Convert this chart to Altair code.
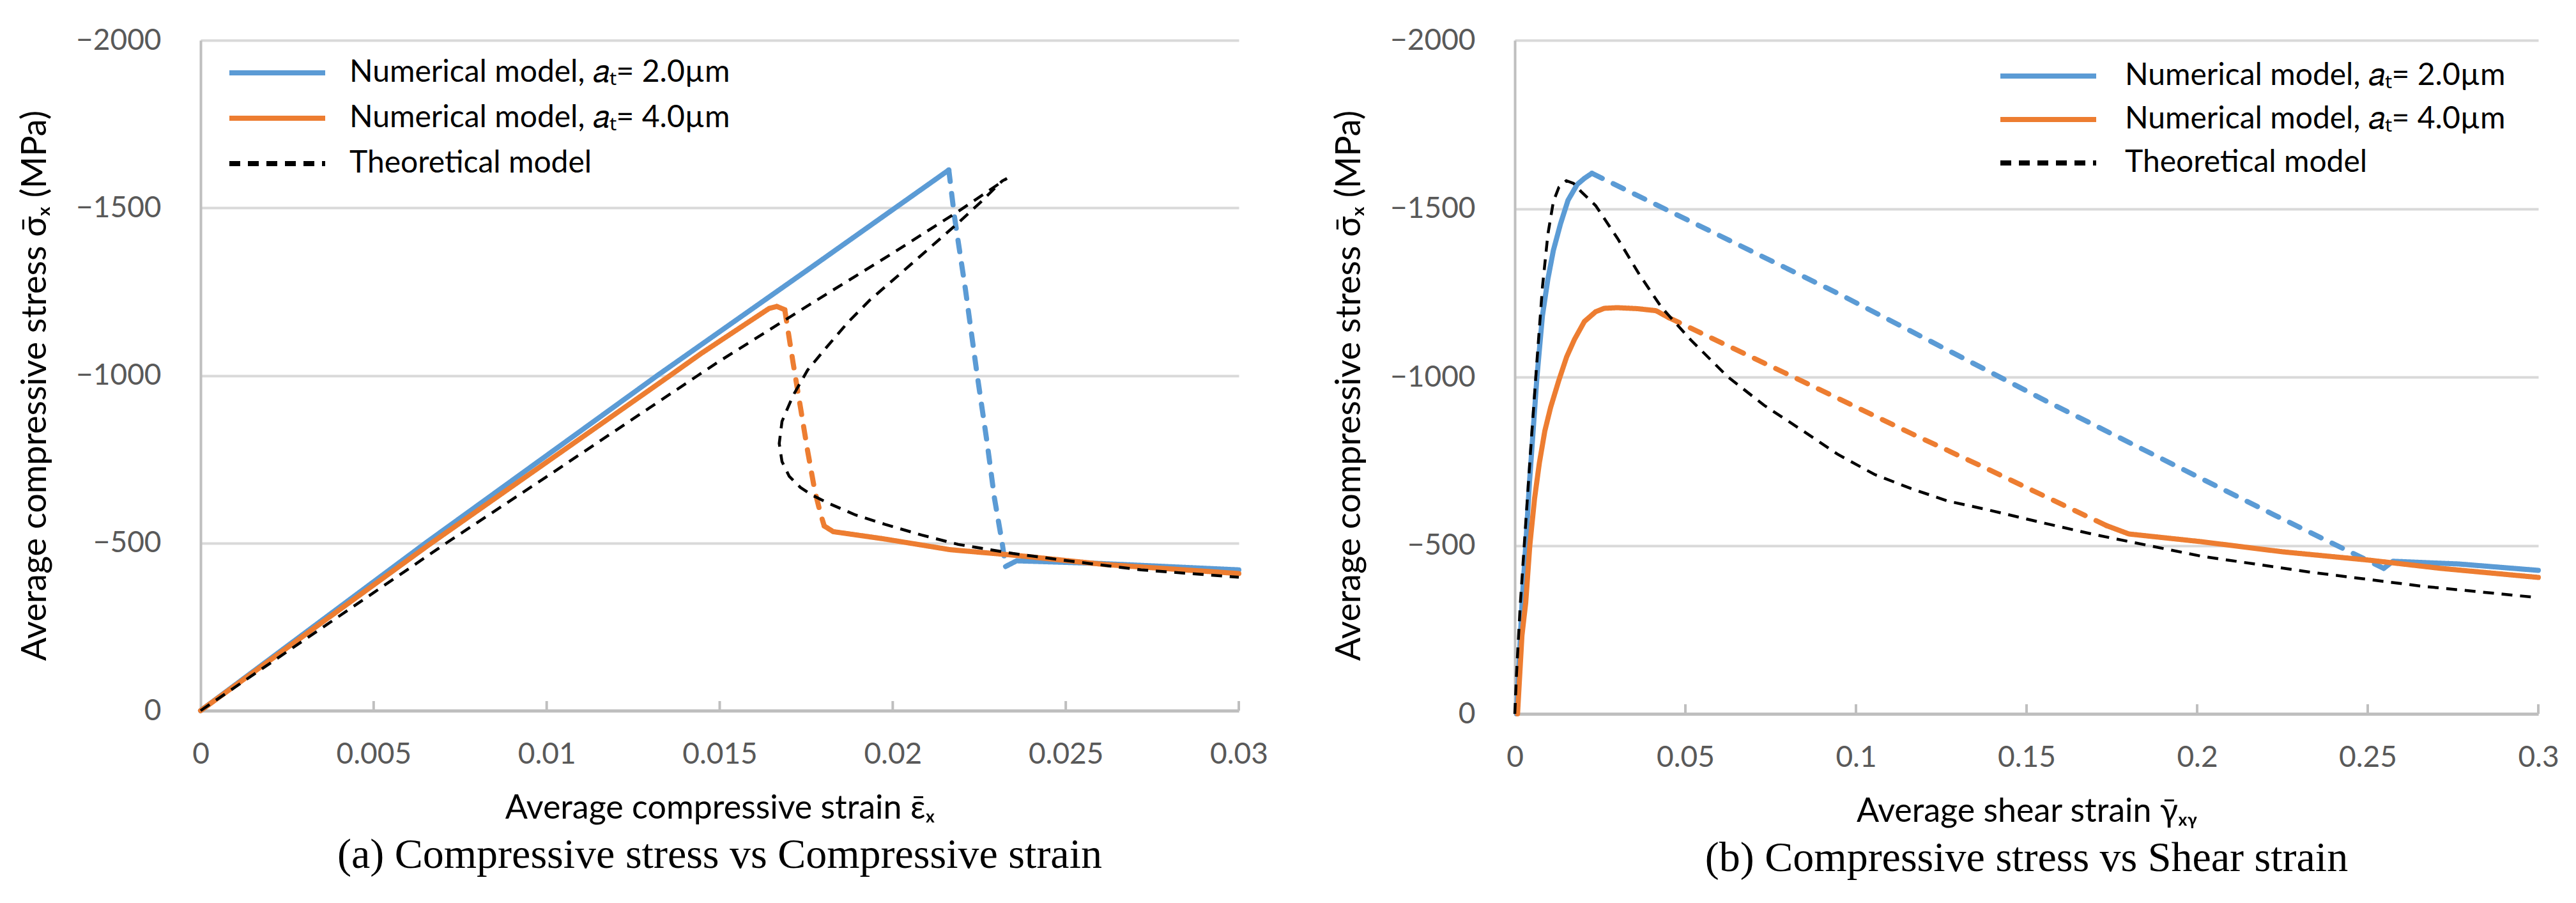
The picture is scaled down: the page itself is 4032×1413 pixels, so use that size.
import altair as alt
import pandas as pd

# ---------------- series names / colours ----------------
BLUE = "Numerical model, 𝑎ₜ= 2.0µm"
ORANGE = "Numerical model, 𝑎ₜ= 4.0µm"
THEO = "Theoretical model"
SERIES = [BLUE, ORANGE, THEO]
COLORS = ["#5B9BD5", "#ED7D31", "#000000"]

Y_TICKS = [0, -500, -1000, -1500, -2000]
A_X_TICKS = [0, 0.005, 0.01, 0.015, 0.02, 0.025, 0.03]
B_X_TICKS = [0, 0.05, 0.1, 0.15, 0.2, 0.25, 0.3]

# ---------------- panel (a): stress vs compressive strain ----------------
A_BLUE_LOAD_X = [0, 0.0065, 0.0132, 0.0175, 0.02162]
A_BLUE_LOAD_Y = [0, -500, -1000, -1312, -1613]
A_BLUE_DROP_X = [0.02162, 0.02178, 0.0221, 0.02242, 0.02273, 0.02294, 0.02316, 0.02326]
A_BLUE_DROP_Y = [-1613, -1476, -1257, -1016, -797, -633, -502, -430]
A_BLUE_POST_X = [0.02326, 0.02358, 0.026, 0.03]
A_BLUE_POST_Y = [-430, -447, -439, -420]

A_ORANGE_LOAD_X = [0, 0.0066, 0.0135, 0.01447, 0.0158, 0.01643, 0.01665, 0.01688]
A_ORANGE_LOAD_Y = [0, -495, -995, -1066, -1157, -1200, -1206, -1196]
A_ORANGE_DROP_X = [0.01688, 0.01712, 0.01733, 0.01754, 0.01775, 0.01791, 0.01802]
A_ORANGE_DROP_Y = [-1196, -1038, -907, -775, -655, -589, -551]
A_ORANGE_POST_X = [0.01802, 0.01828, 0.01977, 0.02167, 0.02358, 0.02612, 0.03]
A_ORANGE_POST_Y = [-551, -534, -512, -480, -463, -436, -409]

A_THEO_X = [0, 0.005, 0.0071, 0.01, 0.01437, 0.015, 0.0177, 0.02, 0.0219, 0.0233,
            0.02316, 0.02252, 0.02189, 0.02104, 0.02019, 0.01934, 0.01871, 0.01807,
            0.01754, 0.01712, 0.0168, 0.01672, 0.0168, 0.01701, 0.01733, 0.01765,
            0.01818, 0.01892, 0.01977, 0.02083, 0.02189, 0.02347, 0.02506, 0.02718, 0.03]
A_THEO_Y = [0, -352, -500, -698, -1000, -1043, -1218, -1365, -1490, -1588,
            -1580, -1515, -1455, -1378, -1301, -1225, -1159, -1082,
            -1016, -940, -863, -797, -743, -699, -666, -644,
            -617, -584, -556, -524, -496, -469, -447, -420, -398]

# ---------------- panel (b): stress vs shear strain ----------------
B_BLUE_LOAD_X = [0.0005, 0.0021, 0.0032, 0.0043, 0.0054, 0.0065, 0.0081, 0.0097,
                 0.0113, 0.0134, 0.0156, 0.0183, 0.0204, 0.0226]
B_BLUE_LOAD_Y = [0, -324, -500, -687, -844, -1001, -1182, -1291,
                 -1376, -1455, -1525, -1572, -1590, -1605]
B_BLUE_DROP_X = [0.0226, 0.0946, 0.1557, 0.2229, 0.2547]
B_BLUE_DROP_Y = [-1605, -1249, -929, -589, -432]
B_BLUE_POST_X = [0.2547, 0.2574, 0.2766, 0.3]
B_BLUE_POST_Y = [-432, -453, -445, -426]

B_ORANGE_LOAD_X = [0.0008, 0.0021, 0.0032, 0.0044, 0.0058, 0.0072, 0.0088, 0.0105, 0.0129,
                   0.0152, 0.0175, 0.0204, 0.0237, 0.0262, 0.03, 0.036, 0.0414, 0.0452]
B_ORANGE_LOAD_Y = [0, -233, -330, -500, -640, -745, -840, -910, -990,
                   -1060, -1112, -1165, -1194, -1204, -1206, -1203, -1197, -1176]
B_ORANGE_DROP_X = [0.0452, 0.0817, 0.1161, 0.1369, 0.1734]
B_ORANGE_DROP_Y = [-1176, -1000, -833, -735, -559]
B_ORANGE_POST_X = [0.1734, 0.18, 0.2013, 0.2251, 0.2507, 0.2713, 0.3]
B_ORANGE_POST_Y = [-559, -534, -511, -481, -456, -432, -405]

B_THEO_X = [0, 0.0005, 0.0016, 0.0032, 0.0048, 0.0065, 0.0081, 0.0097, 0.0113, 0.0129,
            0.0151, 0.0172, 0.0194, 0.0237, 0.0301, 0.0366, 0.043, 0.0516, 0.0624, 0.0731,
            0.0839, 0.0946, 0.1054, 0.1161, 0.1269, 0.139, 0.1527, 0.1691, 0.2013, 0.2337,
            0.2659, 0.3]
B_THEO_Y = [0, -118, -324, -566, -808, -1049, -1267, -1424, -1521, -1563,
            -1583, -1575, -1551, -1509, -1412, -1303, -1207, -1110, -1001, -916,
            -844, -771, -711, -669, -632, -605, -572, -534, -468, -420,
            -379, -345]

Y_TITLE = "Average compressive stress σ̄ₓ (MPa)"
A_X_TITLE = "Average compressive strain ε̄ₓ"
B_X_TITLE = "Average shear strain γ̄ₓᵧ"
A_CAPTION = "(a) Compressive stress vs Compressive strain"
B_CAPTION = "(b) Compressive stress vs Shear strain"

SANS = "Lato"
SERIF = "Liberation Serif"


def build_panel(segments, ticks, width, height, xtitle, caption, lx, ly, row_pad, lab_off):
    rows = []
    for seg_id, (series, kind, xs, ys) in enumerate(segments):
        for i, (xv, yv) in enumerate(zip(xs, ys)):
            rows.append(dict(x=xv, y=yv, series=series, kind=kind, seg=seg_id, i=i))
    df = pd.DataFrame(rows)
    xdom = [ticks[0], ticks[-1]]
    xscale = alt.Scale(domain=xdom, nice=False, zero=False)
    yscale = alt.Scale(domain=[0, -2000], nice=False, zero=False)

    xenc = alt.X("x:Q", scale=xscale,
                 axis=alt.Axis(values=ticks, format="~g", title=xtitle, grid=False,
                               ticks=False, labelPadding=46, titlePadding=36,
                               domainColor="#bfbfbf", domainWidth=5,
                               labelFont=SANS, labelFontSize=46, labelColor="#595959",
                               titleFont=SANS, titleFontSize=52, titleColor="#000000",
                               titleFontWeight="normal", labelFlush=False))
    yenc = alt.Y("y:Q", scale=yscale,
                 axis=alt.Axis(values=Y_TICKS, format="d", title=Y_TITLE, grid=True,
                               gridColor="#d9d9d9", gridWidth=4, ticks=False,
                               labelPadding=62, titlePadding=36, titleY=540,
                               domainColor="#bfbfbf", domainWidth=4,
                               labelFont=SANS, labelFontSize=46, labelColor="#595959",
                               titleFont=SANS, titleFontSize=54, titleColor="#000000",
                               titleFontWeight="normal"))
    leg = alt.Legend(title=None, orient="none", legendX=lx, legendY=ly,
                     symbolType="M-3,0H3", symbolSize=2500, symbolStrokeWidth=8,
                     labelFont=SANS, labelFontSize=48, labelColor="#000000",
                     labelOffset=lab_off, rowPadding=row_pad, padding=0, labelLimit=0)
    color = alt.Color("series:N", scale=alt.Scale(domain=SERIES, range=COLORS), legend=leg)
    dash = alt.StrokeDash("series:N",
                          scale=alt.Scale(domain=SERIES, range=[[1, 0], [1, 0], [17, 12]]),
                          legend=leg)

    base = alt.Chart(df)
    tick_rules = alt.Chart(pd.DataFrame({"x": ticks[1:]})).mark_rule(
        color="#bfbfbf", strokeWidth=4).encode(
        x=xenc, y=alt.value(height), y2=alt.value(height - 15))
    solid = base.transform_filter(alt.datum.kind == "solid").mark_line(
        strokeWidth=8, strokeCap="round", strokeJoin="round").encode(
        x=xenc, y=yenc, color=color, strokeDash=dash, detail="seg:N", order="i:Q")
    dashed = base.transform_filter(alt.datum.kind == "dash").mark_line(
        strokeWidth=8, strokeCap="round", strokeDash=[18, 19]).encode(
        x=xenc, y=yenc, color=color, detail="seg:N", order="i:Q")
    theo = base.transform_filter(alt.datum.kind == "theo").mark_line(
        strokeWidth=4.5, strokeCap="butt").encode(
        x=xenc, y=yenc, color=color, strokeDash=dash, detail="seg:N", order="i:Q")

    return alt.layer(tick_rules, dashed, solid, theo).properties(
        width=width, height=height,
        title=alt.TitleParams(caption, orient="bottom", anchor="middle", font=SERIF,
                              fontSize=66, fontWeight="normal", color="#000000", offset=16))


panel_a = build_panel(
    [(BLUE, "solid", A_BLUE_LOAD_X, A_BLUE_LOAD_Y),
     (BLUE, "dash", A_BLUE_DROP_X, A_BLUE_DROP_Y),
     (BLUE, "solid", A_BLUE_POST_X, A_BLUE_POST_Y),
     (ORANGE, "solid", A_ORANGE_LOAD_X, A_ORANGE_LOAD_Y),
     (ORANGE, "dash", A_ORANGE_DROP_X, A_ORANGE_DROP_Y),
     (ORANGE, "solid", A_ORANGE_POST_X, A_ORANGE_POST_Y),
     (THEO, "theo", A_THEO_X, A_THEO_Y)],
    A_X_TICKS, 1625, 1049, A_X_TITLE, A_CAPTION, lx=91, ly=22, row_pad=18, lab_off=84)

panel_b = build_panel(
    [(BLUE, "solid", B_BLUE_LOAD_X, B_BLUE_LOAD_Y),
     (BLUE, "dash", B_BLUE_DROP_X, B_BLUE_DROP_Y),
     (BLUE, "solid", B_BLUE_POST_X, B_BLUE_POST_Y),
     (ORANGE, "solid", B_ORANGE_LOAD_X, B_ORANGE_LOAD_Y),
     (ORANGE, "dash", B_ORANGE_DROP_X, B_ORANGE_DROP_Y),
     (ORANGE, "solid", B_ORANGE_POST_X, B_ORANGE_POST_Y),
     (THEO, "theo", B_THEO_X, B_THEO_Y)],
    B_X_TICKS, 1602, 1054, B_X_TITLE, B_CAPTION, lx=806, ly=27, row_pad=15, lab_off=91)

chart = alt.hconcat(panel_a, panel_b, spacing=100).properties(
    padding={"left": 20, "top": 32, "right": 10, "bottom": 10},
    background="white",
).configure_view(stroke=None).resolve_scale(color="independent", strokeDash="independent")

chart.save("out.html", embed_options={"renderer": "svg", "actions": False})
